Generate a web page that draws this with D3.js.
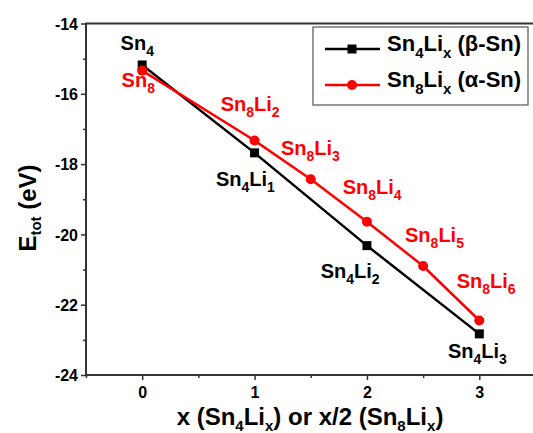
<!DOCTYPE html>
<html><head><meta charset="utf-8">
<script src="https://cdn.jsdelivr.net/npm/d3@7"></script>
<style>body{margin:0;background:#fff}svg{display:block;font-family:"Liberation Sans",Arial,sans-serif;font-weight:bold}</style>
</head><body><svg id="c" width="533" height="433"></svg>
<script>
const sn4X = [0, 1, 2, 3];
const sn4E = [-15.18, -17.68, -20.32, -22.83];
const sn8X = [0, 1, 1.5, 2, 2.5, 3];
const sn8E = [-15.34, -17.33, -18.43, -19.64, -20.90, -22.45];
const xTicks = [0, 1, 2, 3];
const yTicks = [-14, -16, -18, -20, -22, -24];
// annotation text parts and series
const labelText = [
  ["Sn","4","",""], ["Sn","8","",""], ["Sn","8","Li","2"], ["Sn","4","Li","1"],
  ["Sn","8","Li","3"], ["Sn","8","Li","4"], ["Sn","4","Li","2"], ["Sn","8","Li","5"],
  ["Sn","8","Li","6"], ["Sn","4","Li","3"]
];
const labelSeries = ["sn4","sn8","sn8","sn4","sn8","sn8","sn4","sn8","sn8","sn4"];
// label anchors in data units (x, E)
const labelX = [-0.192, -0.183, 0.698, 0.656, 1.235, 1.784, 1.588, 2.339, 2.799, 2.721];
const labelE = [-14.754, -15.798, -16.481, -18.609, -17.741, -18.851, -21.249, -20.208, -21.533, -23.525];
const legendNames = [["Sn","4","Li","x"," (β-Sn)"], ["Sn","8","Li","x"," (α-Sn)"]];
const legendSeries = ["sn4", "sn8"];

const colors = {sn4: "#000", sn8: "#f00"};
const svg = d3.select("#c");
const L = 86, R = 535.5, T = 23.5, B = 375;
const x = d3.scaleLinear().domain([-0.5, 3.5]).range([L, R]);
const y = d3.scaleLinear().domain([-24, -14]).range([B, T]);

// axes
const xAxis = d3.axisBottom(x).tickValues(d3.range(-0.5, 3.51, 0.5)).tickSize(5)
  .tickFormat(d => xTicks.includes(d) ? d3.format("d")(d) : "");
const gx = svg.append("g").attr("transform", `translate(0,${B})`).call(xAxis);
gx.selectAll(".tick line").attr("stroke","#333").attr("stroke-width",1.5).attr("y2", d => Number.isInteger(d) ? 5 : 3);
gx.selectAll(".tick text").attr("font-size", 16).attr("font-weight","bold").attr("fill","#000").attr("y", 23).attr("dy", 0);
gx.select(".domain").remove();

const yAxis = d3.axisLeft(y).tickValues(d3.range(-24, -13.9, 1)).tickSize(5)
  .tickFormat(d => yTicks.includes(d) ? d : "");
const gy = svg.append("g").attr("transform", `translate(${L},0)`).call(yAxis);
gy.selectAll(".tick line").attr("stroke","#333").attr("stroke-width",1.5).attr("x2", d => d % 2 === 0 ? -5 : -3);
gy.selectAll(".tick text").attr("font-size", 16).attr("font-weight","bold").attr("fill","#000").attr("x",-8).attr("dy","0.35em");
gy.select(".domain").remove();

// frame
svg.append("rect").attr("x", L).attr("y", T).attr("width", R - L).attr("height", B - T)
  .attr("fill","none").attr("stroke","#333").attr("stroke-width",2);

// titles
const yt = svg.append("text").attr("transform", "translate(36,208) rotate(-90)")
  .attr("text-anchor","middle").attr("font-size", 24);
yt.append("tspan").text("E");
yt.append("tspan").text("tot").attr("font-size", 15).attr("dy", 5);
yt.append("tspan").text(" (eV)").attr("dy", -5);

const xt = svg.append("text").attr("x", 310).attr("y", 425).attr("text-anchor","middle").attr("font-size", 24);
[["x (Sn",0],["4",1],["Li",0],["x",1],[") or x/2 (Sn",0],["8",1],["Li",0],["x",1],[")",0]].forEach((p,i,arr) => {
  const prev = i > 0 ? arr[i-1][1] : 0;
  const ts = xt.append("tspan").text(p[0]).attr("dy", (p[1] - prev) * 6);
  if (p[1]) ts.attr("font-size", 15);
});

// lines
const line = d3.line().x(d => x(d[0])).y(d => y(d[1]));
const s4 = sn4X.map((v,i)=>[v, sn4E[i]]);
const s8 = sn8X.map((v,i)=>[v, sn8E[i]]);
svg.append("path").datum(s4).attr("d", line).attr("fill","none").attr("stroke",colors.sn4).attr("stroke-width",2.5);
svg.append("path").datum(s8).attr("d", line).attr("fill","none").attr("stroke",colors.sn8).attr("stroke-width",2.5);
svg.selectAll(".sq").data(s4).enter().append("rect")
  .attr("x", d => x(d[0]) - 4.5).attr("y", d => y(d[1]) - 4.5).attr("width", 9).attr("height", 9).attr("fill",colors.sn4);
svg.selectAll(".ci").data(s8).enter().append("circle")
  .attr("cx", d => x(d[0])).attr("cy", d => y(d[1])).attr("r", 5).attr("fill",colors.sn8);

// annotations
labelText.forEach((l, i) => {
  const t = svg.append("text").attr("x", x(labelX[i])).attr("y", y(labelE[i])).attr("font-size", 20).attr("fill", colors[labelSeries[i]]);
  t.append("tspan").text(l[0]);
  t.append("tspan").text(l[1]).attr("font-size", 14).attr("dy", 6);
  if (l[2]) {
    t.append("tspan").text(l[2]).attr("dy", -6);
    t.append("tspan").text(l[3]).attr("font-size", 14).attr("dy", 6);
  }
});

// legend
svg.append("rect").attr("x", 313).attr("y", 27).attr("width", 215).attr("height", 78)
  .attr("fill","#fff").attr("stroke","#555").attr("stroke-width",1.2);
legendNames.forEach((nm, i) => {
  const ly = 49 + i * 36;
  const c = colors[legendSeries[i]];
  svg.append("line").attr("x1", 325).attr("x2", 380).attr("y1", ly).attr("y2", ly).attr("stroke", c).attr("stroke-width", 2.5);
  if (i === 0) svg.append("rect").attr("x", 352 - 4.5).attr("y", ly - 4.5).attr("width", 9).attr("height", 9).attr("fill", c);
  else svg.append("circle").attr("cx", 352).attr("cy", ly).attr("r", 5).attr("fill", c);
  const t = svg.append("text").attr("x", 387).attr("y", ly + 2).attr("font-size", 22).attr("fill","#000");
  t.append("tspan").text(nm[0]);
  t.append("tspan").text(nm[1]).attr("font-size", 15).attr("dy", 7);
  t.append("tspan").text(nm[2]).attr("dy", -7);
  t.append("tspan").text(nm[3]).attr("font-size", 15).attr("dy", 7);
  t.append("tspan").text(nm[4]).attr("dy", -7);
});
</script></body></html>
